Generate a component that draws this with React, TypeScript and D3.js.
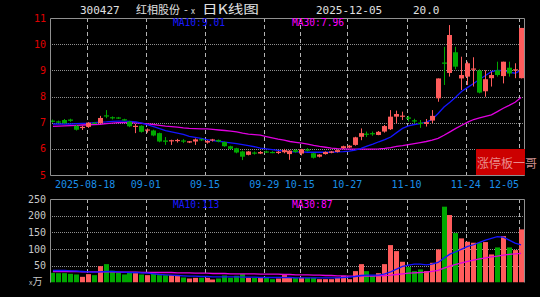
import React from 'react';
import * as d3 from 'd3';

// ---- data ----
const opens = [7.08,7.05,7.10,7.12,6.88,6.80,6.84,7.00,6.98,7.28,
  7.21,7.20,7.13,7.04,6.85,6.88,6.70,6.70,6.60,6.32,
  6.29,6.30,6.32,6.24,6.28,6.37,6.24,6.32,6.34,6.26,
  6.10,6.02,5.90,5.77,5.86,5.82,5.90,5.88,5.84,5.87,
  5.80,5.95,5.82,5.98,5.83,5.70,5.80,5.85,5.88,6.03,
  6.05,6.15,6.46,6.58,6.60,6.53,6.66,6.75,7.23,7.25,
  7.20,7.09,7.00,6.95,7.08,7.93,9.30,8.90,9.69,8.69,
  8.76,9.03,8.99,8.20,8.70,9.00,8.78,9.10,9.00,8.70];
const highs = [7.12,7.08,7.14,7.15,6.92,6.88,7.02,7.03,7.26,7.48,
  7.24,7.22,7.15,7.07,6.95,6.90,6.78,6.73,6.62,6.45,
  6.35,6.38,6.37,6.30,6.40,6.40,6.33,6.38,6.36,6.28,
  6.12,6.04,5.93,5.92,5.90,5.92,5.93,5.91,5.92,6.00,
  5.95,5.98,6.00,6.03,5.85,5.80,5.90,5.92,5.97,6.12,
  6.14,6.46,6.78,6.66,6.66,6.68,6.91,7.48,7.46,7.42,
  7.26,7.15,7.10,7.14,7.48,8.69,9.90,10.73,9.90,9.52,
  9.33,9.50,9.04,9.00,8.95,9.33,9.33,9.33,9.27,10.62];
const lows = [7.00,6.98,6.96,7.03,6.70,6.72,6.80,6.95,6.96,7.17,
  7.12,7.14,7.07,6.83,6.60,6.62,6.62,6.48,6.25,6.15,
  6.15,6.24,6.22,6.22,6.15,6.30,6.20,6.28,6.25,6.08,
  5.98,5.83,5.57,5.75,5.78,5.80,5.84,5.83,5.80,5.83,
  5.58,5.85,5.75,5.90,5.63,5.67,5.78,5.83,5.86,6.00,
  6.03,6.12,6.33,6.45,6.50,6.52,6.62,6.72,6.97,7.10,
  7.04,6.97,6.80,6.85,6.98,7.80,8.44,8.76,9.04,8.25,
  8.44,8.38,8.12,7.99,8.38,8.76,8.50,8.76,8.70,8.69];
const closes = [7.03,7.00,6.98,7.07,6.73,6.84,7.00,6.97,7.18,7.25,
  7.17,7.16,7.09,6.86,6.88,6.65,6.74,6.51,6.28,6.27,
  6.33,6.34,6.28,6.29,6.36,6.35,6.30,6.36,6.28,6.10,
  6.00,5.86,5.70,5.90,5.83,5.88,5.87,5.86,5.89,5.95,
  5.93,5.88,5.98,5.93,5.66,5.78,5.88,5.90,5.95,6.10,
  6.12,6.44,6.60,6.54,6.57,6.65,6.87,7.23,7.33,7.27,
  7.15,7.07,6.95,7.02,7.26,8.69,9.25,10.35,9.14,8.82,
  9.27,9.07,8.15,8.66,8.82,8.82,9.33,8.88,9.04,10.62];
const volumes = [29,28,28,26,24,17,25,22,49,55,
  35,29,24,29,28,24,22,26,22,22,
  22,20,15,12,14,14,14,9,12,21,
  14,20,25,14,14,14,14,10,12,22,
  14,14,14,14,14,10,10,10,14,20,
  10,34,55,34,20,28,55,112,94,62,
  46,34,39,34,59,99,227,202,148,132,
  122,119,119,121,84,105,139,105,97,159];
const ma10 = [6.95,6.95,6.95,6.95,6.96,6.97,6.98,7.00,7.02,7.03,
  7.05,7.06,7.06,7.05,7.03,6.98,6.92,6.85,6.77,6.70,
  6.65,6.60,6.55,6.48,6.44,6.40,6.35,6.31,6.29,6.26,
  6.23,6.20,6.16,6.12,6.08,6.03,6.00,5.97,5.94,5.91,
  5.89,5.88,5.88,5.87,5.87,5.87,5.87,5.87,5.88,5.89,
  5.91,5.95,6.02,6.10,6.18,6.27,6.35,6.45,6.62,6.78,
  6.88,6.93,6.96,7.02,7.12,7.35,7.60,7.78,7.98,8.20,
  8.35,8.50,8.66,8.80,8.95,9.00,8.99,8.93,8.89,9.01];
const ma30 = [6.86,6.87,6.88,6.89,6.90,6.91,6.92,6.93,6.94,6.96,
  6.98,7.00,7.00,7.00,6.99,6.97,6.95,6.93,6.90,6.87,
  6.85,6.83,6.80,6.78,6.77,6.76,6.76,6.74,6.72,6.70,
  6.68,6.65,6.60,6.56,6.54,6.52,6.47,6.42,6.37,6.33,
  6.28,6.25,6.22,6.18,6.13,6.09,6.06,6.03,6.01,6.00,
  5.99,5.99,5.99,5.99,5.99,6.00,6.02,6.05,6.09,6.12,
  6.16,6.20,6.24,6.28,6.33,6.40,6.52,6.65,6.78,6.90,
  7.02,7.12,7.18,7.24,7.30,7.42,7.55,7.66,7.78,7.96];
const volMa10 = [36,36,36,35,34,33,32,31,32,33,
  33,32,31,30,30,29,28,26,24,23,
  22,21,20,19,19,18,18,17,17,17,
  17,17,16,16,16,15,15,15,15,15,
  15,14,14,14,14,14,14,14,14,15,
  16,18,21,22,22,22,26,32,40,48,
  52,55,55,53,55,60,73,85,92,100,
  108,113,120,127,132,137,136,127,118,113];
const volMa30 = [33,33,33,33,33,32,32,32,32,32,
  32,31,31,31,31,30,30,30,30,30,
  30,29,29,29,28,28,28,27,27,27,
  26,26,26,26,26,25,25,25,25,24,
  24,23,23,23,22,22,21,21,20,20,
  19,19,19,19,19,20,21,22,24,26,
  28,29,30,31,33,36,43,49,54,59,
  63,67,71,74,77,79,82,84,86,87];
const priceTicks = [5,6,7,8,9,10,11];
const volTicks = [50,100,150,200,250];
const dateTickIdx = [6,16,26,36,42,50,60,70,79];
const dateTickLabels = ['2025-08-18','09-01','09-15','09-29','10-15','10-27','11-10','11-24','12-05'];

const UP = '#ff5c5c';
const DOWN = '#00a800';
const MONO = "'DejaVu Sans Mono', monospace";
const CJK = "'Noto Sans CJK SC', sans-serif";

export default function App() {
  const W = 540, H = 297;
  const L = 50, R = 524;
  const pTop = 18, pBot = 175, vTop = 199, vBot = 282.5;
  const x = d3.scaleBand<number>().domain(d3.range(opens.length)).range([L, R]);
  const bw = x.bandwidth();
  const cx = (i: number) => (x(i) as number) + bw / 2;
  const yP = d3.scaleLinear().domain([5, 11]).range([pBot, pTop]);
  const yV = d3.scaleLinear().domain([0, 250]).range([vBot, vTop]);
  const mkLine = (ys: d3.ScaleLinear<number, number>) =>
    d3.line<number>().x((_, i) => cx(i)).y(d => ys(d));
  const priceLine = mkLine(yP);
  const volLine = mkLine(yV);

  return (
    <svg width={W} height={H} style={{ position: 'absolute', left: 0, top: 0 }}>
      <rect x={0} y={0} width={W} height={H} fill="#000" />
      <defs>
        <clipPath id="pclip"><rect x={L} y={pTop} width={R - L} height={pBot - pTop} /></clipPath>
        <clipPath id="vclip"><rect x={L} y={vTop} width={R - L} height={vBot - vTop} /></clipPath>
      </defs>

      {/* title */}
      <text x={80} y={14} fill="#e0e0e0" fontFamily={MONO} fontSize={11}>300427</text>
      <text x={136} y={14} fill="#e0e0e0" fontFamily={CJK} fontSize={11.5} textLength={44} lengthAdjust="spacingAndGlyphs">红相股份</text>
      <text x={184} y={14} fill="#e0e0e0" fontFamily={CJK} fontSize={11}>-</text>
      <text x={191} y={14} fill="#e0e0e0" fontFamily={CJK} fontSize={8}>x</text>
      <text x={202} y={14} fill="#e0e0e0" fontFamily={CJK} fontSize={12.5} textLength={57} lengthAdjust="spacingAndGlyphs">日K线图</text>
      <text x={316} y={14} fill="#e0e0e0" fontFamily={MONO} fontSize={11}>2025-12-05</text>
      <text x={413} y={14} fill="#e0e0e0" fontFamily={MONO} fontSize={11}>20.0</text>

      {/* grid */}
      {priceTicks.filter(t => t > 5 && t < 11).map(t => (
        <line key={'pg' + t} x1={L} x2={R} y1={Math.round(yP(t)) + 0.5} y2={Math.round(yP(t)) + 0.5}
          stroke="#909090" strokeDasharray="1,1" />
      ))}
      {volTicks.filter(t => t < 250).map(t => (
        <line key={'vg' + t} x1={L} x2={R} y1={Math.round(yV(t)) + 0.5} y2={Math.round(yV(t)) + 0.5}
          stroke="#909090" strokeDasharray="1,1" />
      ))}
      {dateTickIdx.map(i => {
        const xx = Math.round((x(i) as number) + 1) + 0.5;
        return (
          <g key={'dv' + i}>
            <line x1={xx} x2={xx} y1={pTop} y2={pBot} stroke="#b4b4b4" strokeDasharray="4,3" />
            <line x1={xx} x2={xx} y1={vTop} y2={vBot} stroke="#b4b4b4" strokeDasharray="4,3" />
          </g>
        );
      })}

      {/* price panel */}
      <g clipPath="url(#pclip)">
        <path d={priceLine(ma30) || ''} fill="none" stroke="#e000e0" strokeWidth={1.3} />
        <path d={priceLine(ma10) || ''} fill="none" stroke="#1414ff" strokeWidth={1.3} />
        {opens.map((o, i) => {
          const c = closes[i];
          const up = c >= o;
          const col = up ? UP : DOWN;
          const x0 = Math.round(cx(i) - 2.5);
          const top = yP(Math.max(o, c));
          const bot = yP(Math.min(o, c));
          return (
            <g key={'c' + i}>
              <line x1={x0 + 2.5} x2={x0 + 2.5} y1={yP(highs[i])} y2={yP(lows[i])} stroke={col} strokeWidth={1} />
              <rect x={x0} y={top} width={5} height={Math.max(1.2, bot - top)} fill={col} />
            </g>
          );
        })}
      </g>

      {/* volume panel */}
      <g clipPath="url(#vclip)">
        {volumes.map((v, i) => {
          const up = closes[i] >= opens[i];
          const x0 = Math.round(cx(i) - 2.5);
          return <rect key={'v' + i} x={x0} y={yV(v)} width={5} height={vBot - yV(v)} fill={up ? UP : DOWN} />;
        })}
        <path d={volLine(volMa30) || ''} fill="none" stroke="#e000e0" strokeWidth={1.3} />
        <path d={volLine(volMa10) || ''} fill="none" stroke="#1414ff" strokeWidth={1.3} />
      </g>

      {/* borders */}
      <path d={`M${L + 0.5},${pBot + 0.5}V${pTop + 0.5}H${R + 0.5}V${pBot + 0.5}H${L + 0.5}`} fill="none" stroke="#909090" />
      <path d={`M${L + 0.5},${vBot}V${vTop + 0.5}H${R + 0.5}V${vBot}`} fill="none" stroke="#909090" />

      {/* axis labels */}
      {priceTicks.map(t => (
        <text key={'pt' + t} x={46} y={yP(t) + 3.5} textAnchor="end" fill="#e00000" fontFamily={MONO} fontSize={10}>{t}</text>
      ))}
      {volTicks.map(t => (
        <text key={'vt' + t} x={46} y={yV(t) + 3.5} textAnchor="end" fill="#c8c8c8" fontFamily={MONO} fontSize={10}>{t}</text>
      ))}
      <text x={29} y={285} fill="#c8c8c8" fontFamily={CJK} fontSize={10}><tspan fontSize={7}>x</tspan>万</text>

      {dateTickIdx.map((i, k) => {
        const xx = (x(i) as number) + 1;
        const first = k === 0, last = k === dateTickIdx.length - 1;
        return (
          <text key={'dl' + i} x={first ? 55 : last ? 519 : xx} y={188}
            textAnchor={first ? 'start' : last ? 'end' : 'middle'}
            fill="#1a8fe8" fontFamily={MONO} fontSize={10}>{dateTickLabels[k]}</text>
        );
      })}

      {/* MA legends */}
      <text x={173} y={26} fill="#1a1aff" fontFamily={MONO} fontSize={9.6}>MA10:{ma10[ma10.length - 1].toFixed(2)}</text>
      <text x={292} y={26} fill="#ff00ff" fontFamily={MONO} fontSize={9.6}>MA30:{ma30[ma30.length - 1].toFixed(2)}</text>
      <text x={173} y={208} fill="#1a1aff" fontFamily={MONO} fontSize={9.6}>MA10:{volMa10[volMa10.length - 1]}</text>
      <text x={292} y={208} fill="#ff00ff" fontFamily={MONO} fontSize={9.6}>MA30:{volMa30[volMa30.length - 1]}</text>

      {/* badge */}
      <rect x={476} y={149} width={49} height={26} fill="#cc0000" />
      <text x={477} y={168} fill="#f0a8a8" fillOpacity={0.85} fontFamily={CJK} fontSize={12}>涨停板一哥</text>
    </svg>
  );
}
